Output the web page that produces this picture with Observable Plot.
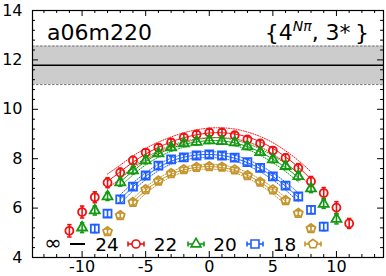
<!DOCTYPE html>
<html><head><meta charset="utf-8">
<script src="https://cdn.jsdelivr.net/npm/d3@7"></script>
<script src="https://cdn.jsdelivr.net/npm/@observablehq/plot@0.6"></script>
<style>body{margin:0;background:#fff}#chart{width:386px;height:276px}</style>
</head><body><div id="chart"></div>
<script>
// ---- data ----
const redX   = [-11,-10,-9,-8,-7,-6,-5,-4,-3,-2,-1,0,1,2,3,4,5,6,7,8,9,10,11];
const redY   = [5.08,5.84,6.44,7.03,7.44,7.93,8.25,8.45,8.66,8.86,8.98,9.06,9.06,8.95,8.78,8.62,8.33,8.03,7.62,7.08,6.61,6.02,5.38];
const redE   = [0.25,0.24,0.22,0.2,0.18,0.16,0.15,0.14,0.14,0.14,0.14,0.14,0.14,0.14,0.14,0.14,0.15,0.16,0.18,0.2,0.22,0.24,0.2];
const greenX = [-10,-9,-8,-7,-6,-5,-4,-3,-2,-1,0,1,2,3,4,5,6,7,8,9,10];
const greenY = [5.21,5.90,6.47,7.04,7.52,7.93,8.21,8.45,8.62,8.68,8.74,8.71,8.66,8.49,8.26,7.97,7.70,7.29,6.79,6.17,5.56];
const greenE = [0.2,0.18,0.16,0.15,0.14,0.13,0.12,0.12,0.12,0.12,0.12,0.12,0.12,0.12,0.12,0.13,0.14,0.15,0.16,0.18,0.2];
const blueX  = [-9,-8,-7,-6,-5,-4,-3,-2,-1,0,1,2,3,4,5,6,7,8,9];
const blueY  = [5.17,5.78,6.35,6.87,7.32,7.72,7.97,8.05,8.13,8.17,8.13,8.04,7.86,7.63,7.28,6.91,6.47,5.93,5.25];
const blueE  = [0.16,0.15,0.14,0.13,0.12,0.12,0.12,0.12,0.12,0.12,0.12,0.12,0.12,0.12,0.12,0.13,0.14,0.15,0.16];
const goldX  = [-8,-7,-6,-5,-4,-3,-2,-1,0,1,2,3,4,5,6,7,8];
const goldY  = [5.05,5.70,6.23,6.75,7.10,7.40,7.56,7.65,7.68,7.66,7.55,7.32,7.05,6.74,6.31,5.79,5.17];
const goldE  = [0.1,0.1,0.1,0.09,0.09,0.09,0.09,0.09,0.09,0.09,0.09,0.09,0.09,0.09,0.1,0.1,0.1];

// fit curves (centre) and half widths of their bands
const redFitX   = [-8,-7,-6,-5,-4,-3,-2,-1,0,1,2,3,4,5,6,7,8];
const redFitY   = [7.08,7.47,7.86,8.19,8.46,8.68,8.85,8.97,9.04,9.05,9.00,8.88,8.69,8.42,8.07,7.66,7.17];
const redFitH   = [0.30,0.27,0.25,0.23,0.21,0.20,0.20,0.20,0.20,0.20,0.20,0.20,0.21,0.23,0.25,0.27,0.30];
const greenFitX = [-7,-6,-5,-4,-3,-2,-1,0,1,2,3,4,5,6,7];
const greenFitY = [7.06,7.50,7.89,8.19,8.42,8.58,8.68,8.73,8.72,8.64,8.49,8.27,7.98,7.64,7.24];
const greenFitH = [0.18,0.16,0.14,0.13,0.12,0.12,0.12,0.12,0.12,0.12,0.12,0.13,0.14,0.16,0.18];
const blueFitX  = [-7,-6,-5,-4,-3,-2,-1,0,1,2,3,4,5,6,7];
const blueFitY  = [6.36,6.86,7.29,7.64,7.90,8.06,8.15,8.17,8.13,8.02,7.84,7.60,7.28,6.89,6.44];
const blueFitH  = [0.18,0.16,0.14,0.13,0.12,0.12,0.12,0.12,0.12,0.12,0.12,0.13,0.14,0.16,0.18];
const goldFitX  = [-6,-5,-4,-3,-2,-1,0,1,2,3,4,5,6];
const goldFitY  = [6.24,6.72,7.09,7.37,7.55,7.65,7.68,7.64,7.53,7.33,7.05,6.70,6.28];
const goldFitH  = [0.15,0.13,0.12,0.11,0.10,0.10,0.10,0.10,0.10,0.11,0.12,0.13,0.15];

// infinite-volume band
const infCentre = 11.78;
const infLo = 11.0;
const infHi = 12.56;

const xTicks = [-10,-5,0,5,10];
const yTicks = [4,6,8,10,12,14];
const legendLabels = ["∞","24","22","20","18"];
const title = "a06m220";

// ---- layout ----
const W=386,H=276,mL=32,mR=3,mT=10,mB=19;
const PW=W-mL-mR, PH=H-mT-mB;
const C = {red:"#f01010", green:"#119a11", blue:"#1f5fff", gold:"#c4942a"};

const pentagon = {draw(ctx,size){const R=Math.sqrt(size/Math.PI);for(let i=0;i<5;i++){const a=-Math.PI/2+i*2*Math.PI/5;const px=R*Math.cos(a),py=R*Math.sin(a);i?ctx.lineTo(px,py):ctx.moveTo(px,py);}ctx.closePath();}};
const cap = {draw(ctx,size){const R=Math.sqrt(size/Math.PI);ctx.moveTo(-R,0);ctx.lineTo(R,0);}};
const zip = (xs,ys,es)=>xs.map((x,i)=>({x,y:ys[i],e:es[i]}));
const zipFit = (xs,ys,hs)=>xs.map((x,i)=>({x,y:ys[i],h:hs[i]}));

const series = [
  {pts:zip(redX,redY,redE), fit:zipFit(redFitX,redFitY,redFitH), c:C.red, sym:"circle", r:4},
  {pts:zip(greenX,greenY,greenE), fit:zipFit(greenFitX,greenFitY,greenFitH), c:C.green, sym:"triangle", r:3.7},
  {pts:zip(blueX,blueY,blueE), fit:zipFit(blueFitX,blueFitY,blueFitH), c:C.blue, sym:"square", r:4.5},
  {pts:zip(goldX,goldY,goldE), fit:zipFit(goldFitX,goldFitY,goldFitH), c:C.gold, sym:pentagon, r:4.7},
];

const fmt = d => d<0 ? "-"+Math.abs(d) : String(d);
const yMinor = d3.range(4,14.001,0.4).map(v=>+v.toFixed(1)).filter(v=>!yTicks.includes(v));
const xMinor = d3.range(-13,14,1).filter(v=>!xTicks.includes(v));

const marks = [
  Plot.rect([0],{y1:()=>infLo,y2:()=>infHi,fill:"#cccccc"}),
  Plot.ruleY([infLo,infHi],{stroke:"#777",strokeWidth:1,strokeDasharray:"2.5,1.5"}),
  Plot.ruleY([infCentre],{stroke:"black",strokeWidth:1.5}),
];
for (const s of series) {
  marks.push(
    Plot.line(s.fit,{x:"x",y:d=>d.y+d.h,stroke:s.c,strokeWidth:1,strokeDasharray:"1,1.5",curve:"natural"}),
    Plot.line(s.fit,{x:"x",y:d=>d.y-d.h,stroke:s.c,strokeWidth:1,strokeDasharray:"1,1.5",curve:"natural"}),
    Plot.line(s.fit,{x:"x",y:"y",stroke:s.c,strokeWidth:1,curve:"natural"}),
    Plot.ruleX(s.pts,{x:"x",y1:d=>d.y-d.e,y2:d=>d.y+d.e,stroke:s.c,strokeWidth:1.6}),
    Plot.dot(s.pts,{x:"x",y:d=>d.y-d.e,symbol:cap,r:2.2,stroke:s.c,strokeWidth:1.6}),
    Plot.dot(s.pts,{x:"x",y:d=>d.y+d.e,symbol:cap,r:2.2,stroke:s.c,strokeWidth:1.6}),
    Plot.dot(s.pts,{x:"x",y:"y",symbol:s.sym,r:s.r,stroke:s.c,fill:"none",strokeWidth:1.8}),
  );
}
marks.push(
  Plot.tickY(yTicks,{insetRight:PW-6,stroke:"black"}),
  Plot.tickY(yTicks,{insetLeft:PW-6,stroke:"black"}),
  Plot.tickY(yMinor,{insetRight:PW-3,stroke:"black"}),
  Plot.tickY(yMinor,{insetLeft:PW-3,stroke:"black"}),
  Plot.tickX(xTicks,{insetTop:PH-6,stroke:"black"}),
  Plot.tickX(xTicks,{insetBottom:PH-6,stroke:"black"}),
  Plot.tickX(xMinor,{insetTop:PH-3,stroke:"black"}),
  Plot.tickX(xMinor,{insetBottom:PH-3,stroke:"black"}),
  Plot.axisY(yTicks,{tickSize:0,tickPadding:10,tickFormat:fmt,fontSize:16,label:null}),
  Plot.axisX(xTicks,{tickSize:0,tickPadding:3,tickFormat:fmt,fontSize:16,label:null}),
  Plot.frame({stroke:"black",strokeWidth:1.2}),
);

const chart = Plot.plot({
  width:W,height:H,marginLeft:mL,marginRight:mR,marginTop:mT,marginBottom:mB,
  x:{domain:[-13.9,13.7]}, y:{domain:[4,14]},
  style:{fontFamily:"DejaVu Sans",fontSize:"16px",background:"white",color:"black",overflow:"visible"},
  marks
});
document.getElementById("chart").appendChild(chart);

// ---- annotations and legend ----
const svg = d3.select(chart);
const g = svg.append("g").attr("font-family","DejaVu Sans").attr("fill","black");
g.append("text").attr("x",47).attr("y",40).attr("font-size",22).attr("text-anchor","start").text(title);
const t = g.append("text").attr("x",369).attr("y",40).attr("font-size",22).attr("text-anchor","end");
t.append("tspan").text("{4");
t.append("tspan").attr("dy",-9).attr("font-size",14).attr("font-style","italic").text("Nπ");
t.append("tspan").attr("dy",9).text(", 3*\u2009}");

const ly = 244;
const lg = g.append("g");
lg.append("text").attr("x",53).attr("y",ly+6).attr("font-size",21).attr("text-anchor","middle").text(legendLabels[0]);
lg.append("line").attr("x1",70).attr("x2",85).attr("y1",ly).attr("y2",ly).attr("stroke","black").attr("stroke-width",2);
const handles = [
  {cx:136, c:C.red, sym:d3.symbolCircle, r:4},
  {cx:196, c:C.green, sym:d3.symbolTriangle, r:3.7},
  {cx:255, c:C.blue, sym:d3.symbolSquare, r:4.5},
  {cx:313, c:C.gold, sym:pentagon, r:4.7},
];
const labelX = [107,165.5,225,284.5];
handles.forEach((h,i)=>{
  lg.append("text").attr("x",labelX[i]).attr("y",ly+7).attr("font-size",18.5).attr("text-anchor","middle").text(legendLabels[i+1]);
  const hg = lg.append("g").attr("transform",`translate(${h.cx},${ly})`).attr("stroke",h.c).attr("stroke-width",1.6).attr("fill","none");
  hg.append("line").attr("x1",-8).attr("x2",8).attr("y1",0).attr("y2",0);
  hg.append("line").attr("x1",-8).attr("x2",-8).attr("y1",-2.5).attr("y2",2.5);
  hg.append("line").attr("x1",8).attr("x2",8).attr("y1",-2.5).attr("y2",2.5);
  hg.append("path").attr("fill","white").attr("d",d3.symbol(h.sym, Math.PI*h.r*h.r)());
});
</script>
</body></html>
